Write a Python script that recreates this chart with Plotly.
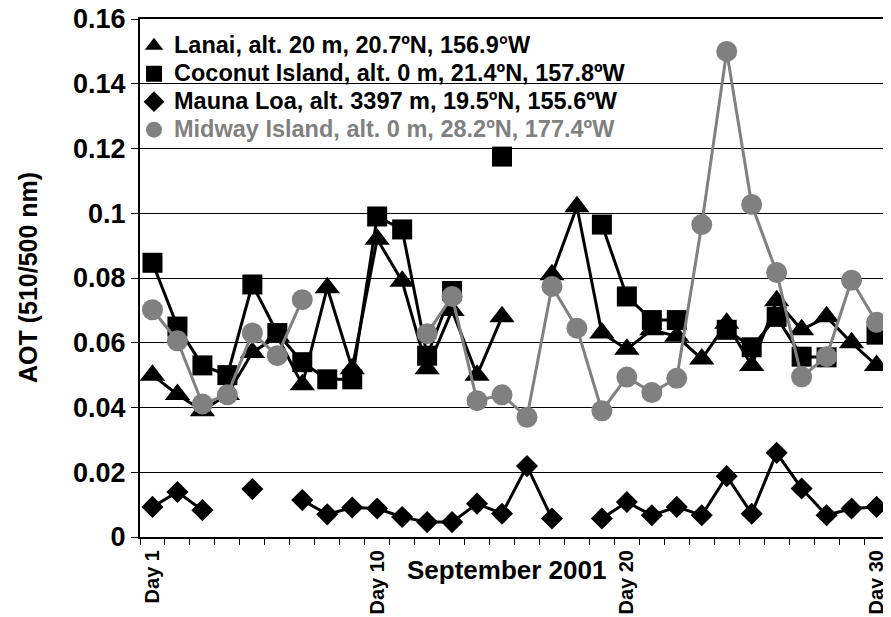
import plotly.graph_objects as go

days = list(range(1, 31))

lanai = [0.050, 0.044, 0.039, 0.044, 0.057, 0.062, 0.047, 0.077, 0.052, 0.092,
         0.079, 0.052, 0.070, 0.050, 0.068, None, 0.081, 0.102, 0.063, 0.058,
         0.064, 0.062, 0.055, 0.066, 0.053, 0.073, 0.064, 0.068, 0.060, 0.053]

coconut = [0.0847, 0.065, 0.053, 0.050, 0.078, 0.063, 0.054, 0.0487, 0.0487, 0.099,
           0.095, 0.056, 0.076, None, 0.1175, None, None, None, 0.0965, 0.0743,
           0.067, 0.067, None, 0.064, 0.0586, 0.068, 0.0557, 0.0555, None, 0.0625]

mauna_loa = [0.0093, 0.0139, 0.0083, None, 0.0148, None, 0.0114, 0.0070, 0.0091, 0.0088,
             0.0062, 0.0046, 0.0046, 0.0103, 0.0072, 0.0219, 0.0057, None, 0.0057, 0.0108,
             0.0067, 0.0093, 0.0067, 0.0188, 0.0072, 0.0260, 0.0150, 0.0067, 0.0088, 0.0093]

midway = [0.0702, 0.0606, 0.0411, 0.0439, 0.063, 0.056, 0.0733, None, None, None,
          None, 0.0628, 0.0743, 0.0421, 0.0439, 0.037, 0.0774, 0.0645, 0.039, 0.0494,
          0.0446, 0.049, 0.0965, 0.150, 0.1027, 0.0817, 0.0495, 0.0557, 0.0793, 0.0663]

names = ["Lanai, alt. 20 m, 20.7ºN, 156.9°W",
         "Coconut Island, alt. 0 m, 21.4ºN, 157.8ºW",
         "Mauna Loa, alt. 3397 m, 19.5ºN, 155.6ºW",
         "Midway Island, alt. 0 m, 28.2ºN, 177.4ºW"]

y_tickvals = [0, 0.02, 0.04, 0.06, 0.08, 0.10, 0.12, 0.14, 0.16]
y_ticktext = ["0", "0.02", "0.04", "0.06", "0.08", "0.1", "0.12", "0.14", "0.16"]
x_tickvals = [1, 10, 20, 30]
x_ticktext = ["Day 1", "Day 10", "Day 20", "Day 30"]

FONT = "Liberation Sans, Arial, sans-serif"
GRAY = "#808080"

series = [
    (lanai, "triangle-up", 22, "black"),
    (coconut, "square", 20, "black"),
    (mauna_loa, "diamond", 17, "black"),
    (midway, "circle", 21, GRAY),
]

fig = go.Figure()
for vals, sym, sz, col in series:
    fig.add_trace(go.Scatter(
        x=days, y=vals, mode="lines+markers", showlegend=False,
        line=dict(color=col, width=3), connectgaps=False,
        marker=dict(symbol=sym, size=sz, color=col, line=dict(width=0)),
    ))

# legend-only entries (markers without lines)
for i, (vals, sym, sz, col) in enumerate(series):
    style = "font-size:23.5px"
    if col != "black":
        style += ";color:%s" % GRAY
    nm = "<span style='%s'>%s</span>" % (style, names[i])
    fig.add_trace(go.Scatter(
        x=[None], y=[None], mode="markers", name=nm, legendgroup="leg",
        marker=dict(symbol=sym, size=sz, color=col),
    ))

fig.add_shape(type="rect", xref="paper", yref="paper", layer="between",
              x0=0.0093, x1=0.669, y0=0.757, y1=0.994,
              fillcolor="white", line=dict(width=0))

fig.add_annotation(text="September 2001", xref="paper", yref="paper",
                   x=0.489, y=-0.064, showarrow=False, xanchor="center", yanchor="middle",
                   font=dict(family=FONT, size=26, color="black", weight="bold"))
fig.add_annotation(text="AOT (510/500 nm)", xref="paper", yref="paper",
                   x=-0.1495, y=0.5, showarrow=False, textangle=-90,
                   xanchor="center", yanchor="middle",
                   font=dict(family=FONT, size=25, color="black", weight="bold"))

# page body has an 8px margin: size the figure so it ends exactly at the window edge
fig.update_layout(
    width=883, height=609,
    margin=dict(l=132, r=2, t=11, b=80, autoexpand=False),
    paper_bgcolor="white", plot_bgcolor="white",
    font=dict(family=FONT, color="black"),
    legend=dict(x=-0.008, y=0.985, xanchor="left", yanchor="top",
                bgcolor="rgba(0,0,0,0)", borderwidth=0,
                font=dict(family=FONT, size=19.2, color="black", weight="bold"),
                tracegroupgap=0, itemsizing="trace"),
)
fig.update_xaxes(
    range=[0.5, 30.5], tickvals=x_tickvals, ticktext=x_ticktext, tickangle=-90,
    ticks="", showgrid=False, zeroline=False,
    showline=True, linecolor="black", linewidth=2, mirror=True,
    tickfont=dict(family=FONT, size=20, color="black", weight="bold"),
    ticklabelstandoff=3, ticklabeloverflow="allow",
    minor=dict(tick0=0.5, dtick=1, ticks="outside", ticklen=6, tickwidth=1,
               tickcolor="black", showgrid=False),
)
fig.update_yaxes(
    range=[0, 0.16], tickvals=y_tickvals, ticktext=y_ticktext,
    ticks="outside", ticklen=7, tickcolor="black", tickwidth=1,
    showgrid=True, gridcolor="black", gridwidth=1, zeroline=False,
    showline=True, linecolor="black", linewidth=2, mirror=True,
    tickfont=dict(family=FONT, size=27, color="black", weight="bold"),
    ticklabeloverflow="allow",
)

fig.write_html("out.html")
